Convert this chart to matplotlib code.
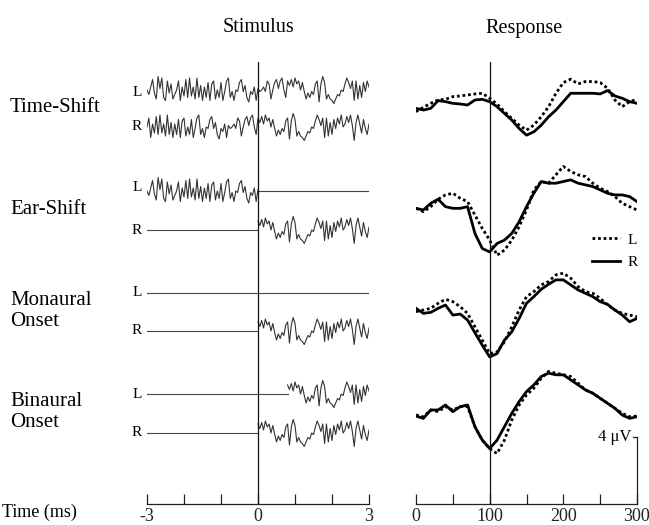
import numpy as np
import matplotlib.pyplot as plt
from matplotlib.lines import Line2D

plt.rcParams['font.family'] = ['Liberation Serif', 'DejaVu Serif']

# noise waveform (arbitrary units), 0.05 ms steps from -3.8 ms to 3.0 ms
noise_pre = [0.0, -0.3, 0.2, 0.7, -0.2, -0.6, 0.9, 0.1, 0.8, -0.5, -0.7, 0.6, -0.2, 0.4, -0.6, -0.3]
noise_neg = [0.0, 0.6, -0.7, 0.2, -0.4, 0.7, -0.5, 0.8, -0.4, 0.2,
             -0.6, 0.8, -0.5, 0.3, -0.7, 0.2, -0.5, 0.5, -0.7, 0.4,
             0.6, -0.6, 0.0, -0.5, 0.5, -0.7, -0.1, 0.6, 0.8, -0.5,
             -0.1, -0.7, 0.0, -0.1, 0.5, 0.7, -0.1, 0.3, -0.5, -0.8,
             -0.1, -0.3, 0.2, -0.7, 0.1, -0.1, 0.0, 0.2, -0.1, 0.6,
             0.4, -0.6, 0.0, 0.5, 0.7, 0.1, 0.6, 0.8, 0.0, -0.5]
noise_pos = [0.6, 0.3, 0.7, 0.2, 0.8, 0.4, 0.6, 0.0, 0.5, -0.1,
             -0.6, -0.2, -0.5, -0.1, -0.3, 0.4, 0.6, -0.8, 0.4, 0.9,
             0.5, -0.6, -0.3, -0.6, -0.7, -0.9, -0.6, -0.3, -0.4, 0.0,
             -0.1, 0.4, 0.8, 0.5, 0.1, 0.6, -0.7, 0.6, -0.6, 0.3,
             -0.5, 0.5, -0.1, 0.6, 0.2, 0.8, 0.0, 0.2, 0.7, 0.3,
             0.8, 0.1, -0.9, 0.3, 0.8, 0.2, -0.4, 0.5, -0.1, -0.5, 0.2]
noise = np.array(noise_pre + noise_neg + noise_pos)
shift = 16  # 0.8 ms interaural delay in samples
t_stim = np.linspace(-3, 3, 121)

# responses (uV), 0..300 ms in 10 ms steps
t_resp = np.arange(0, 301, 10)
ts_L = [-0.4, -0.14, 0.1, 0.3, 0.34, 0.5, 0.54, 0.6, 0.66, 0.7, 0.4, 0.06, -0.4, -0.8, -1.2, -1.5,
        -1.2, -0.7, -0.1, 0.7, 1.34, 1.54, 1.26, 1.4, 1.4, 1.34, 1.0, 0.3, -0.1, 0.2, 0.34]
ts_R = [-0.2, -0.3, -0.2, 0.26, 0.2, 0.1, 0.06, 0.0, 0.3, 0.34, 0.2, -0.1, -0.5, -0.9, -1.4, -1.8,
        -1.6, -1.2, -0.7, -0.3, 0.2, 0.7, 0.7, 0.7, 0.7, 0.66, 0.86, 0.54, 0.4, 0.2, 0.1]
es_L = [0.1, -0.1, 0.2, 0.64, 0.9, 1.0, 0.7, 0.5, -0.3, -1.1, -1.8, -2.7, -2.4, -1.8, -1.0, 0.0,
        1.2, 1.7, 1.6, 2.1, 2.6, 2.3, 2.1, 2.0, 1.6, 1.3, 1.1, 0.8, 0.4, 0.2, 0.0]
es_R = [0.1, 0.0, 0.4, 0.64, 0.2, 0.1, 0.1, 0.2, -1.4, -2.3, -2.5, -2.0, -1.8, -1.4, -0.7, 0.2,
        1.0, 1.7, 1.6, 1.6, 1.7, 1.8, 1.6, 1.5, 1.4, 1.2, 1.0, 0.9, 0.9, 0.8, 0.5]
mo_L = [-0.4, -0.3, -0.2, 0.1, 0.34, 0.2, -0.1, -0.5, -1.3, -2.1, -2.9, -2.8, -2.2, -1.3, -0.3, 0.5,
        0.8, 1.2, 1.4, 1.8, 1.9, 1.6, 1.1, 0.8, 0.7, 0.4, 0.0, -0.3, -0.5, -0.6, -0.7]
mo_R = [-0.2, -0.5, -0.44, -0.2, 0.0, -0.6, -0.54, -0.9, -1.66, -2.4, -3.1, -2.9, -2.1, -1.6, -0.8, 0.1,
        0.5, 0.94, 1.24, 1.5, 1.5, 1.2, 0.9, 0.7, 0.5, 0.2, 0.04, -0.3, -0.6, -1.0, -0.8]
bi_L = [-0.3, -0.4, 0.0, -0.1, 0.2, 0.0, 0.2, 0.2, -1.0, -1.8, -2.3, -2.6, -1.8, -0.6, 0.3, 0.9,
        1.3, 1.9, 2.3, 2.2, 2.1, 2.0, 1.6, 1.2, 1.0, 0.7, 0.4, 0.1, -0.2, -0.4, -0.36]
bi_R = [-0.36, -0.5, 0.0, 0.0, 0.3, -0.1, 0.2, 0.3, -1.0, -1.8, -2.3, -1.8, -1.0, -0.2, 0.5, 1.1,
        1.5, 2.0, 2.2, 2.1, 2.1, 1.8, 1.5, 1.2, 1.0, 0.7, 0.4, 0.1, -0.3, -0.5, -0.4]

conditions = ['Time-Shift', 'Ear-Shift', 'Monaural\nOnset', 'Binaural\nOnset']
responses = [(ts_L, ts_R), (es_L, es_R), (mo_L, mo_R), (bi_L, bi_R)]

W, H = 649, 525
fig = plt.figure(figsize=(W / 100, H / 100), dpi=100)


def px(x, y):
    return x / W, 1 - y / H


ax1 = fig.add_axes([147 / W, 21 / H, 222 / W, 442 / H])
ax2 = fig.add_axes([416 / W, 21 / H, 221 / W, 442 / H])

for ax in (ax1, ax2):
    ax.set_ylim(504, 62)
    for s in ('top', 'left', 'right'):
        ax.spines[s].set_visible(False)
    ax.spines['bottom'].set_linewidth(0.9)
    ax.spines['bottom'].set_color('#222222')
    ax.set_yticks([])
    ax.tick_params(axis='x', which='both', direction='in', length=7, width=0.9,
                   labelsize=13, pad=3, colors='#222222')
    ax.patch.set_visible(False)

# stimulus panel
amp = 15
stim_col = '#333333'
flat_col = '#444444'
neg = t_stim <= 0
pos = t_stim >= 0
late = t_stim >= 0.79
# Time-Shift
ax1.plot(t_stim, 90 - amp * noise[0:121], color=stim_col, lw=0.8)
ax1.plot(t_stim, 127 - amp * noise[shift:shift + 121], color=stim_col, lw=0.8)
# Ear-Shift
ax1.plot(t_stim[neg], 191 - amp * noise[0:61], color=stim_col, lw=0.8)
ax1.plot([0, 3], [191, 191], color=flat_col, lw=0.8)
ax1.plot([-3, 0], [230, 230], color=flat_col, lw=0.8)
ax1.plot(t_stim[pos], 230 - amp * noise[76:137], color=stim_col, lw=0.8)
# Monaural Onset
ax1.plot([-3, 3], [293, 293], color=flat_col, lw=0.8)
ax1.plot([-3, 0], [331, 331], color=flat_col, lw=0.8)
ax1.plot(t_stim[pos], 331 - amp * noise[76:137], color=stim_col, lw=0.8)
# Binaural Onset
ax1.plot([-3, 0.8], [394, 394], color=flat_col, lw=0.8)
ax1.plot(t_stim[late], 394 - amp * noise[76:76 + late.sum()], color=stim_col, lw=0.8)
ax1.plot([-3, 0], [433, 433], color=flat_col, lw=0.8)
ax1.plot(t_stim[pos], 433 - amp * noise[76:137], color=stim_col, lw=0.8)

ax1.axvline(0, color='#111111', lw=0.9)
ax1.set_xlim(-3, 3)
ax1.set_xticks([-3, 0, 3])
ax1.set_xticklabels(['-3', '0', '3'])
ax1.set_xticks(range(-3, 4), minor=True)

# response panel
uv = 16.75
bases = [105, 210, 305, 410]
for (rl, rr), b in zip(responses, bases):
    ax2.plot(t_resp, b - uv * np.array(rl), color='black', lw=2.0, ls=(0, (1, 1)))
    ax2.plot(t_resp, b - uv * np.array(rr), color='black', lw=2.0)

ax2.axvline(100, color='#111111', lw=0.9)
ax2.set_xlim(0, 300)
ax2.set_xticks([0, 100, 200, 300])
ax2.set_xticks(range(0, 301, 50), minor=True)

# 4 uV scale bar
ax2.plot([300, 300], [504, 504 - 4 * uv], color='#222222', lw=0.9, clip_on=False)
ax2.plot([295, 300], [504 - 4 * uv, 504 - 4 * uv], color='#222222', lw=0.9, clip_on=False)
ax2.text(292, 504 - 4 * uv, '4 \u03bcV', ha='right', va='center', fontsize=12)

handles = [Line2D([], [], color='black', lw=2.0, ls=(0, (1, 1))),
           Line2D([], [], color='black', lw=2.0)]
fig.legend(handles, ['L', 'R'], loc='center left', bbox_to_anchor=px(592, 251),
           frameon=False, fontsize=11, handlelength=1.8, handletextpad=0.5,
           labelspacing=0.55, borderpad=0, borderaxespad=0)

# text
fig.text(*px(259, 28), 'Stimulus', ha='center', va='center', fontsize=14.5)
fig.text(*px(524, 28), 'Response', ha='center', va='center', fontsize=14.5)
label_y = [107, 210, 311, 412]
for name, y in zip(conditions, label_y):
    fig.text(*px(10, y), name, ha='left', va='center', fontsize=15, linespacing=1.1)
for yl, yr in [(92, 126), (188, 230), (293, 330), (394, 433)]:
    fig.text(*px(137, yl), 'L', ha='center', va='center', fontsize=11)
    fig.text(*px(137, yr), 'R', ha='center', va='center', fontsize=11)
fig.text(*px(2, 512), 'Time (ms)', ha='left', va='center', fontsize=13)

fig.savefig('out.png', dpi=100)
